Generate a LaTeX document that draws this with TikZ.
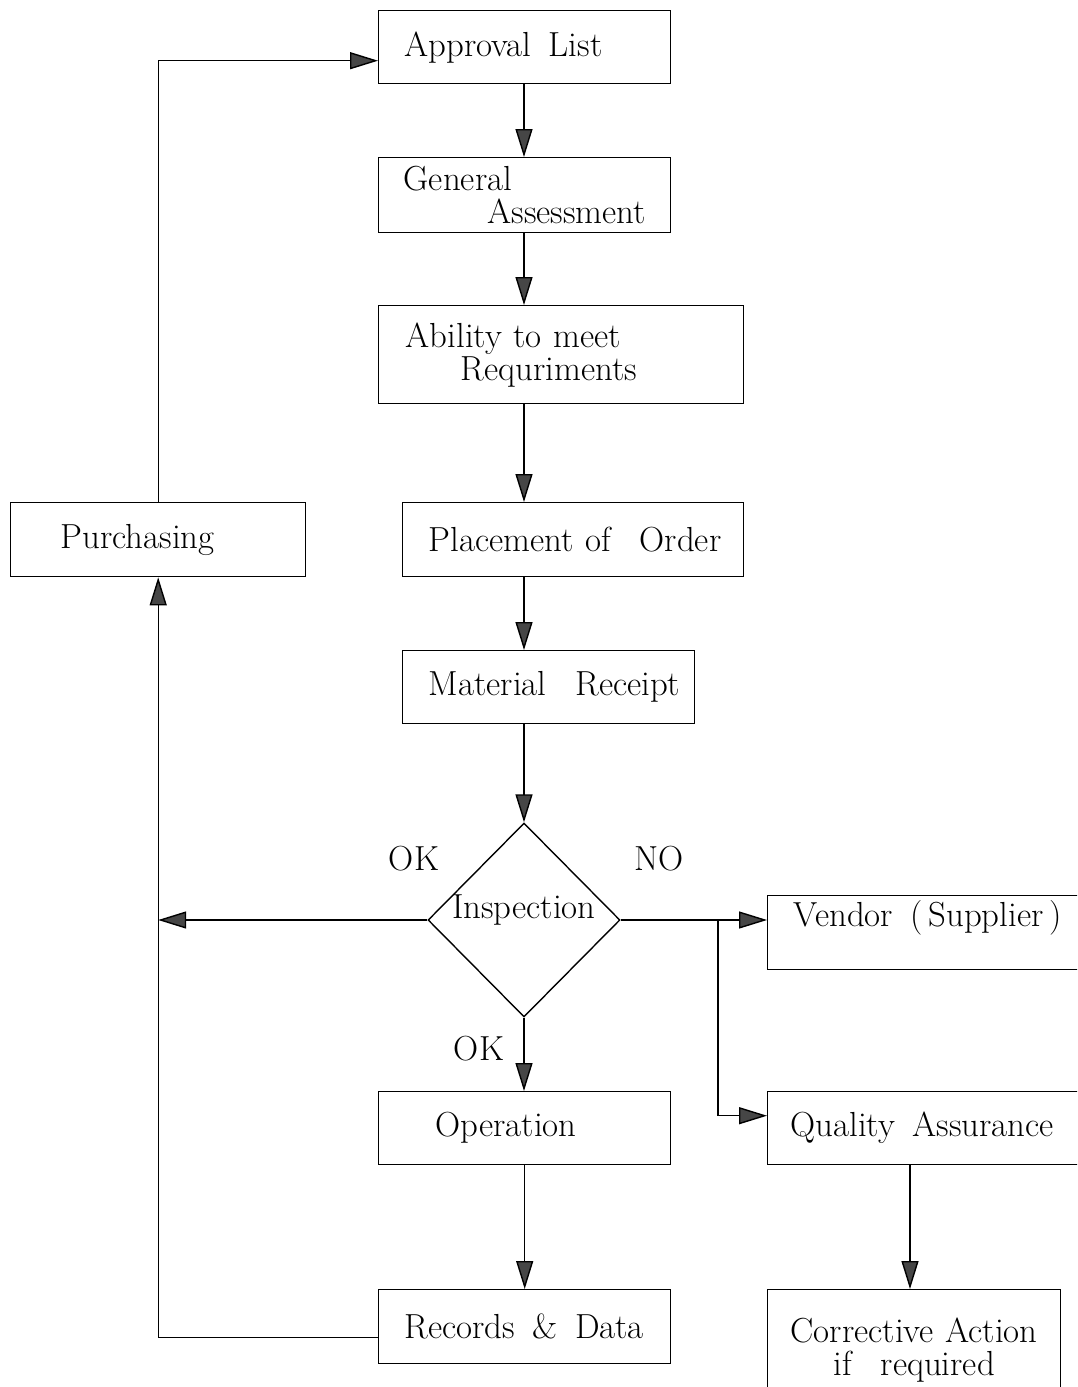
\documentclass[tikz,border=0pt]{standalone}
\usetikzlibrary{arrows.meta,shapes.geometric,calc}
\begin{document}
\begin{tikzpicture}[x=0.5pt,y=-0.5pt,
  every node/.style={font=\fontsize{17.4pt}{16.5pt}\selectfont},
  blk/.style={draw, line width=0.7pt, rectangle, inner xsep=0pt, inner ysep=0pt,
              align=left, anchor=north west},
  arr/.style={line width=0.7pt, -{Triangle[length=14pt,width=8.5pt,fill=gray!55!black]}}]
\useasboundingbox (0,0) rectangle (1077,1387);
\clip (0,0) rectangle (1077,1387);

% process boxes
\node[blk, text width=146pt, minimum height=36.5pt] (appr) at (378,10)
  {\hspace*{13pt}Approval\enspace List};
\node[blk, text width=146pt, minimum height=37.5pt] (gen) at (378,157)
  {\hspace*{12.5pt}General\\\hspace*{54.5pt}Assessment};
\node[blk, text width=182.5pt, minimum height=49pt] (abil) at (378,305)
  {\hspace*{13.5pt}Ability to meet\\\hspace*{41pt}Requriments};
\node[blk, text width=170.5pt, minimum height=37pt] (place) at (402,502)
  {\hspace*{13pt}Placement of\enspace\ Order};
\node[blk, text width=146pt, minimum height=36.5pt] (mat) at (402,650)
  {\hspace*{13pt}Material\enspace\ Receipt};
\node[blk, text width=147.5pt, minimum height=37pt] (purch) at (10,502)
  {\hspace*{25pt}Purchasing};
\node[blk, text width=146pt, minimum height=36.5pt] (oper) at (378,1091)
  {\hspace*{28.5pt}Operation};
\node[blk, text width=146pt, minimum height=37pt] (rec) at (378,1289)
  {\hspace*{13pt}Records\enspace\&\enspace Data};
\node[blk, text width=200pt, text height=15.5pt, text depth=21.5pt] (vend) at (767,895)
  {\hspace*{13pt}Vendor\enspace(\,Supplier\,)};
\node[blk, text width=200pt, minimum height=36.5pt] (qa) at (767,1091)
  {\hspace*{11.5pt}Quality\enspace Assurance};
\node[blk, text width=146.5pt, minimum height=60pt, align=center] (corr) at (767,1289)
  {Corrective Action\\if\enspace\ required};

% decision
\node[draw, diamond, line width=0.7pt, minimum width=96pt, minimum height=97pt,
      inner sep=0pt, label={[yshift=5pt]center:Inspection}] (insp) at (524,920) {};

% branch labels
\node (okl) at (414,859) {OK};
\node (no)  at (659,859) {NO};
\node (okb) at (479,1049) {OK};

% connectors
\coordinate (col) at (524,0);
\coordinate (br) at (718,920);
\coordinate (qcol) at (910,0);
\draw[arr] (purch.north) |- ([yshift=-6.75pt]appr.west);
\draw[arr] (col |- appr.south) -- (col |- gen.north);
\draw[arr] (col |- gen.south) -- (col |- abil.north);
\draw[arr] (col |- abil.south) -- (col |- place.north);
\draw[arr] (col |- place.south) -- (col |- mat.north);
\draw[arr] (col |- mat.south) -- (insp.north);
\draw[arr] (insp.west) -- (insp.west -| purch.south);
\draw[arr] ([yshift=-5.5pt]rec.west) -| (purch.south);
\draw[arr] (insp.east) -- (insp.east -| vend.west);
\draw[arr] (br) |- ([yshift=6.25pt]qa.west);
\draw[arr] (insp.south) -- (insp.south |- oper.north);
\draw[arr] (oper.south) -- (rec.north);
\draw[arr] (qcol |- qa.south) -- (qcol |- corr.north);
\end{tikzpicture}
\end{document}
